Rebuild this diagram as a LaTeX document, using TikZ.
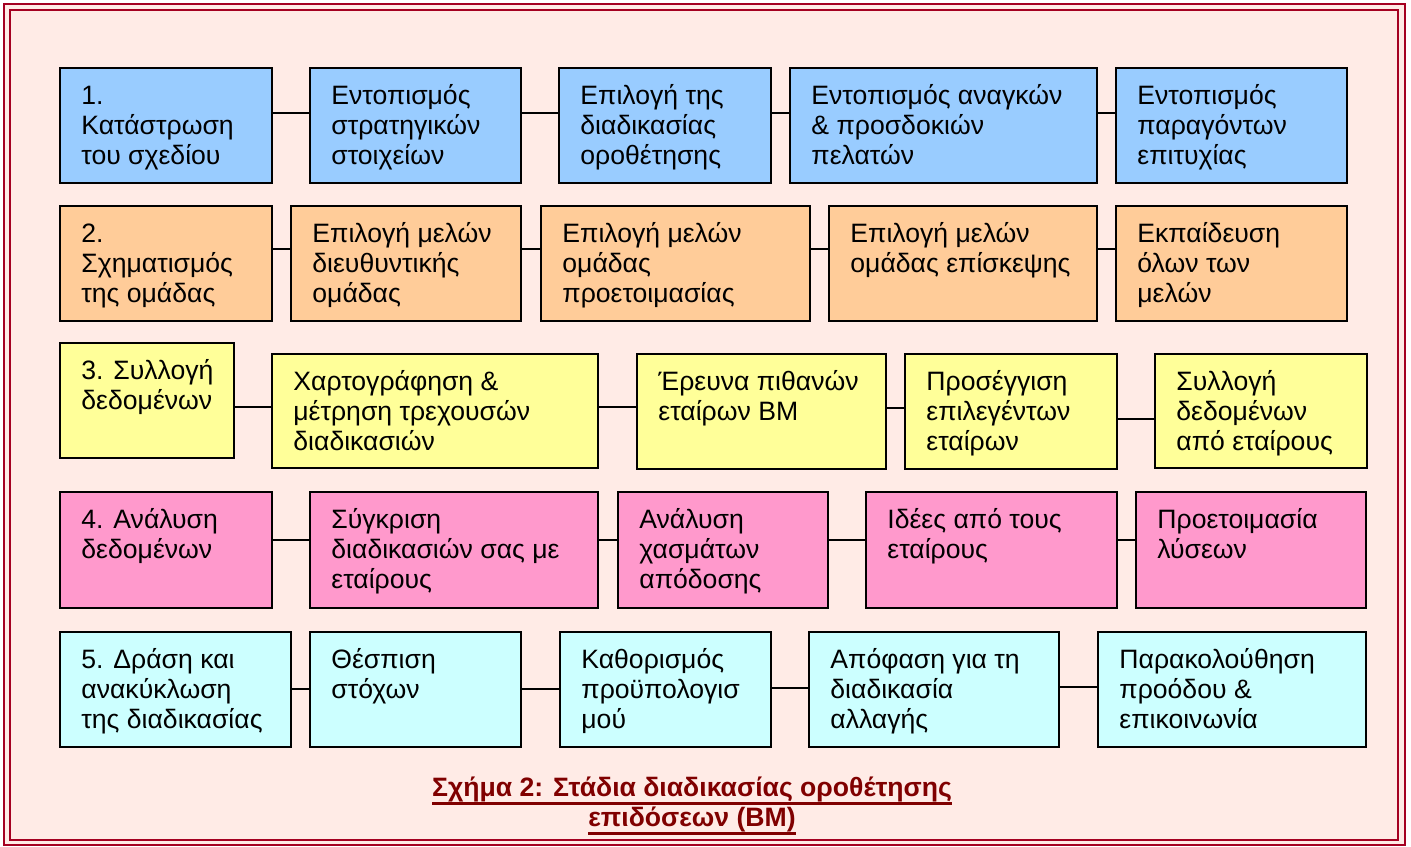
\documentclass[tikz,border=0pt]{standalone}
\usepackage{fontspec}
\setmainfont{Liberation Sans}
\definecolor{pagebg}{HTML}{FFEBE6}
\definecolor{frame}{HTML}{A50021}
\definecolor{capred}{HTML}{800000}
\definecolor{cblue}{HTML}{99CCFF}
\definecolor{corange}{HTML}{FFCC99}
\definecolor{cyellow}{HTML}{FFFF99}
\definecolor{cpink}{HTML}{FF99CC}
\definecolor{ccyan}{HTML}{CCFFFF}
% one stage box: name, fill, left, top, right, bottom, text
\newcommand\stagebox[7]{%
  \node[stage, fill=#2, minimum width={(#5-#3)*0.5pt}, minimum height={(#6-#4)*0.5pt}]
    (#1) at ({(#3+#5)/2},{(#4+#6)/2}) {};
  \node[stagetext] (#1t) at ([xshift=10.5pt,yshift=-7.5pt]#1.north west) {\strut #7};
}
% heavier underline for the caption
\newsavebox\capline
\newcommand\capul[1]{\sbox\capline{#1}\rlap{\usebox\capline}\rule[-4pt]{\wd\capline}{1.5pt}}
\begin{document}
\begin{tikzpicture}[x=0.5pt,y=-0.5pt,
  stage/.style={draw=black, line width=1.2pt, inner sep=0pt, outer sep=0pt, rectangle},
  stagetext/.style={anchor=north west, inner sep=0pt, align=left,
    font=\fontsize{13.3}{15}\selectfont},
  conn/.style={draw=black, line width=1pt},
  caption/.style={font=\fontsize{13.3}{15}\selectfont\bfseries, text=capred, align=center}]
\useasboundingbox (0,0) rectangle (1411,846);
% double frame around the figure
\fill[white] (0,0) rectangle (1411,846);
\fill[pagebg] (4,4) rectangle (1405,845);
\draw[frame, line width=1.4pt] (4,4) rectangle (1405,845);
\draw[frame, line width=1.4pt] (10,10) rectangle (1398,840);

% stage 1
\stagebox{r1a}{cblue}{60}{68}{272}{183}{1.\\Κατάστρωση\\του σχεδίου}
\stagebox{r1b}{cblue}{310}{68}{521}{183}{Εντοπισμός\\στρατηγικών\\στοιχείων}
\stagebox{r1c}{cblue}{559}{68}{771}{183}{Επιλογή της\\διαδικασίας\\οροθέτησης}
\stagebox{r1d}{cblue}{790}{68}{1097}{183}{Εντοπισμός αναγκών\\\& προσδοκιών\\πελατών}
\stagebox{r1e}{cblue}{1116}{68}{1347}{183}{Εντοπισμός\\παραγόντων\\επιτυχίας}
\foreach \a/\b in {r1a/r1b,r1b/r1c,r1c/r1d,r1d/r1e}
  \draw[conn] (\a.east |- 0,113) -- (\b.west |- 0,113);

% stage 2
\stagebox{r2a}{corange}{60}{206}{272}{321}{2.\\Σχηματισμός\\της ομάδας}
\stagebox{r2b}{corange}{291}{206}{521}{321}{Επιλογή μελών\\διευθυντικής\\ομάδας}
\stagebox{r2c}{corange}{541}{206}{810}{321}{Επιλογή μελών\\ομάδας\\προετοιμασίας}
\stagebox{r2d}{corange}{829}{206}{1097}{321}{Επιλογή μελών\\ομάδας επίσκεψης}
\stagebox{r2e}{corange}{1116}{206}{1347}{321}{Εκπαίδευση\\όλων των\\μελών}
\foreach \a/\b in {r2a/r2b,r2b/r2c,r2c/r2d,r2d/r2e}
  \draw[conn] (\a.east |- 0,249) -- (\b.west |- 0,249);

% stage 3
\stagebox{r3a}{cyellow}{60}{343}{234}{458}{3. Συλλογή\\δεδομένων}
\stagebox{r3b}{cyellow}{272}{354}{598}{468}{Χαρτογράφηση \&\\μέτρηση τρεχουσών\\διαδικασιών}
\stagebox{r3c}{cyellow}{637}{354}{886}{469}{Έρευνα πιθανών\\εταίρων BM}
\stagebox{r3d}{cyellow}{905}{354}{1117}{469}{Προσέγγιση\\επιλεγέντων\\εταίρων}
\stagebox{r3e}{cyellow}{1155}{354}{1367}{468}{Συλλογή\\δεδομένων\\από εταίρους}
\draw[conn] (r3a.east |- 0,407) -- (r3b.west |- 0,407);
\draw[conn] (r3b.east |- 0,407) -- (r3c.west |- 0,407);
\draw[conn] (r3c.east |- 0,408) -- (r3d.west |- 0,408);
\draw[conn] (r3d.east |- 0,419) -- (r3e.west |- 0,419);

% stage 4
\stagebox{r4a}{cpink}{60}{492}{272}{608}{4. Ανάλυση\\δεδομένων}
\stagebox{r4b}{cpink}{310}{492}{598}{608}{Σύγκριση\\διαδικασιών σας με\\εταίρους}
\stagebox{r4c}{cpink}{618}{492}{828}{608}{Ανάλυση\\χασμάτων\\απόδοσης}
\stagebox{r4d}{cpink}{866}{492}{1117}{608}{Ιδέες από τους\\εταίρους}
\stagebox{r4e}{cpink}{1136}{492}{1366}{608}{Προετοιμασία\\λύσεων}
\foreach \a/\b in {r4a/r4b,r4b/r4c,r4c/r4d,r4d/r4e}
  \draw[conn] (\a.east |- 0,540) -- (\b.west |- 0,540);

% stage 5
\stagebox{r5a}{ccyan}{60}{632}{291}{747}{5. Δράση και\\ανακύκλωση\\της διαδικασίας}
\stagebox{r5b}{ccyan}{310}{632}{521}{747}{Θέσπιση\\στόχων}
\stagebox{r5c}{ccyan}{560}{632}{771}{747}{Καθορισμός\\προϋπολογισ\\μού}
\stagebox{r5d}{ccyan}{809}{632}{1059}{747}{Απόφαση για τη\\διαδικασία\\αλλαγής}
\stagebox{r5e}{ccyan}{1098}{632}{1366}{747}{Παρακολούθηση\\προόδου \&\\επικοινωνία}
\draw[conn] (r5a.east |- 0,689) -- (r5b.west |- 0,689);
\draw[conn] (r5b.east |- 0,689) -- (r5c.west |- 0,689);
\draw[conn] (r5c.east |- 0,688) -- (r5d.west |- 0,688);
\draw[conn] (r5d.east |- 0,687) -- (r5e.west |- 0,687);

% caption
\node[caption, anchor=north] (cap) at (692,770)
  {\capul{Σχήμα 2: Στάδια διαδικασίας οροθέτησης}\\\capul{επιδόσεων (BM)}};
\end{tikzpicture}
\end{document}
